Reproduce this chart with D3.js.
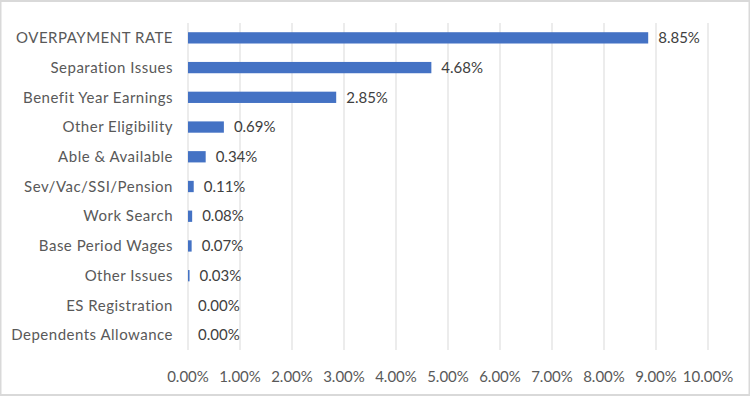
<!DOCTYPE html>
<html>
<head>
<meta charset="utf-8">
<script src="https://cdn.jsdelivr.net/npm/d3@7"></script>
<style>
  body { margin: 0; background: #fff; }
  svg { display: block; font-family: Lato, "Open Sans", sans-serif; }
</style>
</head>
<body>
<div id="chart"></div>
<script>
// Data
const categories = [
  "OVERPAYMENT RATE", "Separation Issues", "Benefit Year Earnings", "Other Eligibility",
  "Able & Available", "Sev/Vac/SSI/Pension", "Work Search", "Base Period Wages",
  "Other Issues", "ES Registration", "Dependents Allowance"
];
const rates = [8.85, 4.68, 2.85, 0.69, 0.34, 0.11, 0.08, 0.07, 0.03, 0.00, 0.00];
const tickValues = [0, 1, 2, 3, 4, 5, 6, 7, 8, 9, 10];

const width = 750, height = 397;
const margin = { top: 23, right: 42, bottom: 47, left: 188 };

const svg = d3.select('#chart').append('svg')
  .attr('width', width).attr('height', height);

// chart border
svg.append('rect')
  .attr('x', 0.5).attr('y', 1).attr('width', width - 1).attr('height', height - 3)
  .attr('fill', 'none').attr('stroke', '#d9d9d9').attr('stroke-width', 2);

const x = d3.scaleLinear().domain([0, 10]).range([margin.left, width - margin.right]);
const y = d3.scaleBand().domain(categories)
  .range([margin.top, height - margin.bottom]).paddingInner(0.62).paddingOuter(0.31);

// gridlines
svg.selectAll('line.grid')
  .data(tickValues)
  .enter()
  .append('line')
  .attr('class', 'grid')
  .attr('x1', d => x(d)).attr('x2', d => x(d))
  .attr('y1', margin.top).attr('y2', height - margin.bottom)
  .attr('stroke', '#d9d9d9').attr('stroke-width', 1);

// x tick labels
svg.selectAll('text.xtick')
  .data(tickValues)
  .enter()
  .append('text')
  .attr('class', 'xtick')
  .attr('x', d => x(d)).attr('y', 382)
  .attr('text-anchor', 'middle')
  .attr('fill', '#595959').attr('font-size', 15)
  .text(d => d.toFixed(2) + '%');

// category labels
svg.selectAll('text.cat')
  .data(categories)
  .enter()
  .append('text')
  .attr('class', 'cat')
  .attr('x', 173).attr('y', d => y(d) + y.bandwidth() / 2)
  .attr('dy', '0.35em')
  .attr('text-anchor', 'end')
  .attr('letter-spacing', 0.5)
  .attr('fill', '#595959').attr('font-size', 15)
  .text(d => d);

// bars
svg.selectAll('rect.bar')
  .data(rates)
  .enter()
  .append('rect')
  .attr('class', 'bar')
  .attr('x', x(0))
  .attr('y', (_, i) => y(categories[i]))
  .attr('width', d => x(d) - x(0))
  .attr('height', y.bandwidth())
  .attr('fill', '#4472c4');

// value labels
svg.selectAll('text.val')
  .data(rates)
  .enter()
  .append('text')
  .attr('class', 'val')
  .attr('x', d => x(d) + 10)
  .attr('y', (_, i) => y(categories[i]) + y.bandwidth() / 2)
  .attr('dy', '0.35em')
  .attr('fill', '#404040').attr('font-size', 15)
  .text(d => d.toFixed(2) + '%');
</script>
</body>
</html>
